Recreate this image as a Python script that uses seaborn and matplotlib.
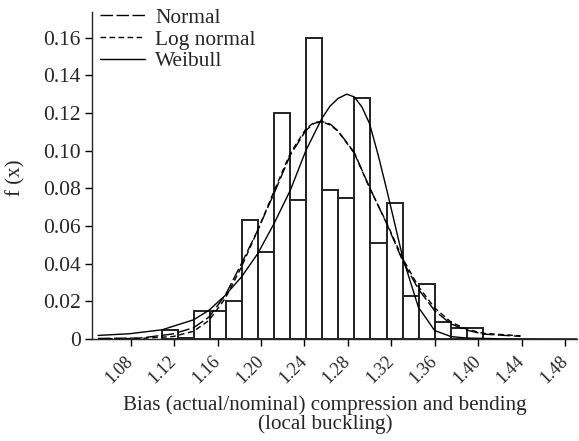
import matplotlib
matplotlib.use("Agg")
import matplotlib.pyplot as plt
import seaborn as sns
import pandas as pd

# ---- data ----
bin_edges = [1.1085, 1.1233, 1.1381, 1.1529, 1.1677, 1.1825, 1.1973, 1.2121,
             1.2269, 1.2417, 1.2565, 1.2713, 1.2861, 1.3009, 1.3157, 1.3305,
             1.3453, 1.3601, 1.3749, 1.3897, 1.4045]
freq = [0.005, 0.0005, 0.015, 0.015, 0.020, 0.063, 0.046, 0.120, 0.074, 0.160,
        0.079, 0.075, 0.128, 0.051, 0.072, 0.023, 0.029, 0.009, 0.006, 0.006]

normal_x = [1.050, 1.089, 1.119, 1.138, 1.152, 1.167, 1.182, 1.197, 1.212, 1.227,
            1.2415, 1.249, 1.2562, 1.264, 1.271, 1.286, 1.300, 1.316, 1.3305, 1.345,
            1.360, 1.375, 1.3895, 1.405, 1.439]
normal_y = [0.0003, 0.0005, 0.0027, 0.0060, 0.0116, 0.0231, 0.0400, 0.0577, 0.0772, 0.0976,
            0.1108, 0.1145, 0.1155, 0.1140, 0.1105, 0.0990, 0.0805, 0.0610, 0.0415, 0.0265,
            0.0150, 0.0080, 0.0047, 0.0026, 0.0014]

lognormal_x = [1.050, 1.089, 1.119, 1.138, 1.152, 1.167, 1.182, 1.197, 1.212, 1.227,
               1.2415, 1.249, 1.2562, 1.264, 1.271, 1.286, 1.300, 1.316, 1.3305, 1.345,
               1.360, 1.375, 1.3895, 1.405, 1.439]
lognormal_y = [0.0001, 0.0003, 0.0013, 0.0041, 0.0098, 0.0214, 0.0382, 0.0577, 0.0784, 0.0986,
               0.1116, 0.1150, 0.1154, 0.1135, 0.1103, 0.0986, 0.0803, 0.0614, 0.0428, 0.0279,
               0.0165, 0.0090, 0.0052, 0.0030, 0.0017]

weibull_x = [1.050, 1.079, 1.109, 1.138, 1.152, 1.167, 1.182, 1.197, 1.212, 1.227,
             1.2415, 1.2562, 1.2636, 1.271, 1.279, 1.286, 1.293, 1.300, 1.308, 1.316,
             1.3305, 1.345, 1.360, 1.375, 1.3895, 1.420, 1.491]
weibull_y = [0.0019, 0.0028, 0.0049, 0.0102, 0.0152, 0.0231, 0.0329, 0.0453, 0.0612, 0.0789,
             0.1002, 0.1172, 0.1236, 0.1277, 0.1300, 0.1285, 0.1232, 0.1144, 0.0976, 0.0789,
             0.0435, 0.0169, 0.0045, 0.0013, 0.0005, 0.0001, 0.0000]

x_ticks = [1.08, 1.12, 1.16, 1.20, 1.24, 1.28, 1.32, 1.36, 1.40, 1.44, 1.48]
y_ticks = [0, 0.02, 0.04, 0.06, 0.08, 0.10, 0.12, 0.14, 0.16]
y_tick_labels = ["0", "0.02", "0.04", "0.06", "0.08", "0.10", "0.12", "0.14", "0.16"]

# ---- figure ----
sns.set_style("ticks")
plt.rcParams["font.family"] = ["Liberation Serif", "DejaVu Serif"]
plt.rcParams["axes.linewidth"] = 1.0

W, H = 579, 441
fig = plt.figure(figsize=(W / 100, H / 100), dpi=100)
AX_L, AX_R, AX_T, AX_B = 92, 577, 12, 339
ax = fig.add_axes([AX_L / W, 1 - AX_B / H, (AX_R - AX_L) / W, (AX_B - AX_T) / H])
aw, ah = AX_R - AX_L, AX_B - AX_T

centers = [(a + b) / 2 for a, b in zip(bin_edges[:-1], bin_edges[1:])]
hist_df = pd.DataFrame({"x": centers, "w": freq})
sns.histplot(data=hist_df, x="x", weights="w", bins=bin_edges, stat="count",
             color="white", edgecolor="#222222", linewidth=1.4, alpha=1, ax=ax)

sns.lineplot(x=normal_x, y=normal_y, color="black", lw=1.0,
             linestyle=(0, (9, 2.5)), label="Normal", ax=ax, sort=False)
sns.lineplot(x=lognormal_x, y=lognormal_y, color="black", lw=1.0,
             linestyle=(0, (4, 2.5)), label="Log normal", ax=ax, sort=False)
sns.lineplot(x=weibull_x, y=weibull_y, color="black", lw=1.0,
             linestyle="-", label="Weibull", ax=ax, sort=False)

ax.set_xlim(1.0444, 1.4911)
ax.set_ylim(0, 0.1736)
sns.despine(ax=ax)

ax.set_xticks(x_ticks)
ax.set_xticklabels([f"{t:.2f}" for t in x_ticks], rotation=45, ha="right",
                   va="center", rotation_mode="anchor", fontsize=13)
ax.set_yticks(y_ticks)
ax.set_yticklabels(y_tick_labels, fontsize=15.5)
ax.tick_params(axis="both", direction="out", length=5, width=1.0, color="black",
               pad=3)
ax.tick_params(axis="x", pad=9)

ax.set_ylabel("f (x)", fontsize=15)
ax.yaxis.set_label_coords((16 - AX_L) / aw, (AX_B - 178) / ah)
ax.yaxis.label.set_va("center")
ax.yaxis.label.set_ha("center")

ax.set_xlabel("Bias (actual/nominal) compression and bending\n(local buckling)",
              fontsize=15.2, linespacing=1.0)
ax.xaxis.set_label_coords((325 - AX_L) / aw, -(395 - AX_B) / ah)
ax.xaxis.label.set_va("top")

leg = ax.legend(loc="upper left", bbox_to_anchor=(8 / aw, 1 + 4 / ah),
                frameon=False, fontsize=15.4, handlelength=2.1, handletextpad=0.47,
                borderpad=0, borderaxespad=0, labelspacing=0.08)

fig.savefig("out.png", dpi=100)
